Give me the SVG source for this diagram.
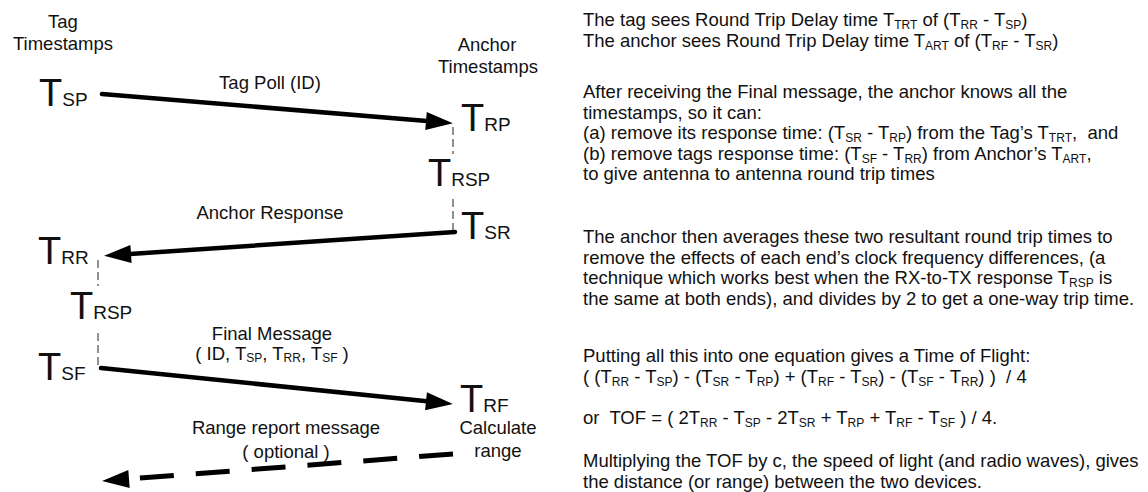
<svg xmlns="http://www.w3.org/2000/svg" width="1148" height="492" viewBox="0 0 1148 492">
  <style>
    text { font-family: "Liberation Sans", Arial, sans-serif; fill: #111; }
    .lbl { font-size: 18.5px; }
    .mid { text-anchor: middle; }
    .big { font-size: 38px; }
    .bsub { font-size: 19px; }
    .body { font-size: 18.5px; }
    .s { font-size: 12px; }
    .msg { fill: none; stroke: #000; stroke-width: 4.5; stroke-linecap: round; }
    .opt { fill: none; stroke: #000; stroke-width: 5; stroke-dasharray: 34 22; }
    .hold { fill: none; stroke: #555; stroke-width: 1.3; stroke-dasharray: 8 4; }
  </style>
  <defs>
    <marker id="head" viewBox="0 -10 28 20" refX="1" refY="0" markerWidth="28" markerHeight="20" markerUnits="userSpaceOnUse" orient="auto" overflow="visible">
      <path d="M0,-9 L27,0 L0,9 Z" fill="#000"/>
    </marker>
  </defs>

  <!-- column headings -->
  <g id="tag-heading">
    <text class="lbl mid" x="63" y="28">Tag</text>
    <text class="lbl mid" x="63" y="50">Timestamps</text>
  </g>
  <g id="anchor-heading">
    <text class="lbl mid" x="487" y="51">Anchor</text>
    <text class="lbl mid" x="488" y="73">Timestamps</text>
  </g>

  <!-- timestamps -->
  <g id="t-sp"><text class="big" x="39" y="106">T<tspan class="bsub">SP</tspan></text></g>
  <g id="t-rp"><text class="big" x="461" y="131">T<tspan class="bsub">RP</tspan></text></g>
  <g id="t-rsp-anchor"><text class="big" x="428" y="186">T<tspan class="bsub">RSP</tspan></text></g>
  <g id="t-sr"><text class="big" x="461" y="239">T<tspan class="bsub">SR</tspan></text></g>
  <g id="t-rr"><text class="big" x="38" y="264">T<tspan class="bsub">RR</tspan></text></g>
  <g id="t-rsp-tag"><text class="big" x="70" y="319">T<tspan class="bsub">RSP</tspan></text></g>
  <g id="t-sf"><text class="big" x="38" y="380">T<tspan class="bsub">SF</tspan></text></g>
  <g id="t-rf">
    <text class="big" x="460" y="412">T<tspan class="bsub">RF</tspan></text>
    <text class="lbl mid" x="498" y="434">Calculate</text>
    <text class="lbl mid" x="498" y="457">range</text>
  </g>

  <!-- message labels -->
  <g id="label-poll"><text class="lbl mid" x="270" y="89">Tag Poll (ID)</text></g>
  <g id="label-response"><text class="lbl mid" x="270" y="219">Anchor Response</text></g>
  <g id="label-final">
    <text class="lbl mid" x="272" y="340">Final Message</text>
    <text class="lbl mid" x="272" y="360">( ID, T<tspan class="s" dy="2">SP</tspan><tspan dy="-2">, T</tspan><tspan class="s" dy="2">RR</tspan><tspan dy="-2">, T</tspan><tspan class="s" dy="2">SF</tspan><tspan dy="-2"> )</tspan></text>
  </g>
  <g id="label-report">
    <text class="lbl mid" x="286" y="434">Range report message</text>
    <text class="lbl mid" x="286" y="458">( optional )</text>
  </g>

  <!-- connectors -->
  <g id="connectors">
    <path class="hold" d="M453,127 L453,154"/>
    <path class="hold" d="M453,199 L453,232"/>
    <path class="hold" d="M98,260 L98,286"/>
    <path class="hold" d="M98,333 L98,365"/>
    <path class="msg" d="M102,94 L427,121" marker-end="url(#head)"/>
    <path class="msg" d="M455,232 L130,254" marker-end="url(#head)"/>
    <path class="msg" d="M101,368 L427,401.3" marker-end="url(#head)"/>
    <path class="opt" d="M453,454 L128,479" marker-end="url(#head)"/>
  </g>

  <!-- explanation -->
  <g id="notes" class="body">
    <text class="body" x="583" y="26">The tag sees Round Trip Delay time T<tspan class="s" dy="3">TRT</tspan><tspan dy="-3"> of (T</tspan><tspan class="s" dy="3">RR</tspan><tspan dy="-3"> - T</tspan><tspan class="s" dy="3">SP</tspan><tspan dy="-3">)</tspan></text>
    <text class="body" x="583" y="46.5">The anchor sees Round Trip Delay time T<tspan class="s" dy="3">ART</tspan><tspan dy="-3"> of (T</tspan><tspan class="s" dy="3">RF</tspan><tspan dy="-3"> - T</tspan><tspan class="s" dy="3">SR</tspan><tspan dy="-3">)</tspan></text>

    <text class="body" x="583" y="98">After receiving the Final message, the anchor knows all the</text>
    <text class="body" x="583" y="118.5">timestamps, so it can:</text>
    <text class="body" x="583" y="139" xml:space="preserve">(a) remove its response time: (T<tspan class="s" dy="3">SR</tspan><tspan dy="-3"> - T</tspan><tspan class="s" dy="3">RP</tspan><tspan dy="-3">) from the Tag’s T</tspan><tspan class="s" dy="3">TRT</tspan><tspan dy="-3">,  and</tspan></text>
    <text class="body" x="583" y="159.5">(b) remove tags response time: (T<tspan class="s" dy="3">SF</tspan><tspan dy="-3"> - T</tspan><tspan class="s" dy="3">RR</tspan><tspan dy="-3">) from Anchor’s T</tspan><tspan class="s" dy="3">ART</tspan><tspan dy="-3">,</tspan></text>
    <text class="body" x="583" y="180">to give antenna to antenna round trip times</text>

    <text class="body" x="583" y="243">The anchor then averages these two resultant round trip times to</text>
    <text class="body" x="583" y="263.5">remove the effects of each end’s clock frequency differences, (a</text>
    <text class="body" x="583" y="284">technique which works best when the RX-to-TX response T<tspan class="s" dy="3">RSP</tspan><tspan dy="-3"> is</tspan></text>
    <text class="body" x="583" y="304.5">the same at both ends), and divides by 2 to get a one-way trip time.</text>

    <text class="body" x="583" y="362">Putting all this into one equation gives a Time of Flight:</text>
    <text class="body" x="583" y="382.5" xml:space="preserve">( (T<tspan class="s" dy="3">RR</tspan><tspan dy="-3"> - T</tspan><tspan class="s" dy="3">SP</tspan><tspan dy="-3">) - (T</tspan><tspan class="s" dy="3">SR</tspan><tspan dy="-3"> - T</tspan><tspan class="s" dy="3">RP</tspan><tspan dy="-3">) + (T</tspan><tspan class="s" dy="3">RF</tspan><tspan dy="-3"> - T</tspan><tspan class="s" dy="3">SR</tspan><tspan dy="-3">) - (T</tspan><tspan class="s" dy="3">SF</tspan><tspan dy="-3"> - T</tspan><tspan class="s" dy="3">RR</tspan><tspan dy="-3">) )  / 4</tspan></text>

    <text class="body" x="583" y="424" xml:space="preserve">or  TOF = ( 2T<tspan class="s" dy="3">RR</tspan><tspan dy="-3"> - T</tspan><tspan class="s" dy="3">SP</tspan><tspan dy="-3"> - 2T</tspan><tspan class="s" dy="3">SR</tspan><tspan dy="-3"> + T</tspan><tspan class="s" dy="3">RP</tspan><tspan dy="-3"> + T</tspan><tspan class="s" dy="3">RF</tspan><tspan dy="-3"> - T</tspan><tspan class="s" dy="3">SF</tspan><tspan dy="-3"> ) / 4.</tspan></text>

    <text class="body" x="583" y="467">Multiplying the TOF by c, the speed of light (and radio waves), gives</text>
    <text class="body" x="583" y="487.5">the distance (or range) between the two devices.</text>
  </g>
</svg>
